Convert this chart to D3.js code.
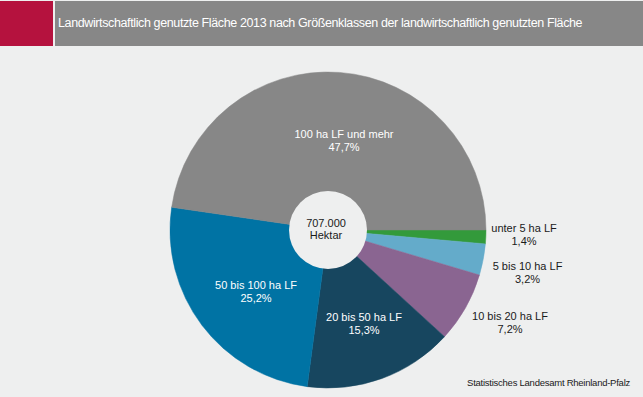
<!DOCTYPE html>
<html><head><meta charset="utf-8">
<script src="https://cdn.jsdelivr.net/npm/d3@7/dist/d3.min.js"></script>
<style>
html,body{margin:0;padding:0;background:#eeefef;}
svg{display:block;font-family:"Liberation Sans",Arial,sans-serif;}
</style></head>
<body>
<svg id="chart" width="643" height="397"></svg>
<script>
const title = "Landwirtschaftlich genutzte Fläche 2013 nach Größenklassen der landwirtschaftlich genutzten Fläche";
const categories = ["unter 5 ha LF", "5 bis 10 ha LF", "10 bis 20 ha LF", "20 bis 50 ha LF", "50 bis 100 ha LF", "100 ha LF und mehr"];
const values = [1.4, 3.2, 7.2, 15.3, 25.2, 47.7];
const valueLabels = ["1,4%", "3,2%", "7,2%", "15,3%", "25,2%", "47,7%"];
const colors = ["#339a3b", "#64abca", "#8a6591", "#17465f", "#0073a4", "#878787"];
const labelColors = ["#1a1a1a", "#1a1a1a", "#1a1a1a", "#ffffff", "#ffffff", "#ffffff"];
const centerLines = ["707.000", "Hektar"];
const source = "Statistisches Landesamt Rheinland-Pfalz";

// layout (label anchor positions relative to the pie centre)
const labelPos = [[196, 2], [199.5, 40], [182, 90], [36, 91], [-72, 59], [16, -92]];

const svg = d3.select("#chart");
const W = 643, H = 397;
svg.append("rect").attr("width", W).attr("height", H).attr("fill", "#eeefef");

// header
svg.append("rect").attr("x", 0).attr("y", 1).attr("width", 53).attr("height", 45).attr("fill", "#b5123e");
svg.append("rect").attr("x", 55).attr("y", 1).attr("width", W - 55).attr("height", 45).attr("fill", "#878787");
svg.append("text").attr("x", 58).attr("y", 27).attr("fill", "#ffffff")
  .attr("font-size", 12.5).attr("letter-spacing", -0.38)
  .text(title);

const cx = 328, cy = 230, R = 158, r0 = 39;
const g = svg.append("g").attr("transform", `translate(${cx},${cy})`);

const pie = d3.pie().sort(null).value(d => d)
  .startAngle(Math.PI / 2).endAngle(Math.PI / 2 + 2 * Math.PI);
const arcs = pie(values);
const arc = d3.arc().innerRadius(0).outerRadius(R);

g.selectAll("path.slice").data(arcs).join("path")
  .attr("class", "slice")
  .attr("d", arc)
  .attr("fill", (d, i) => colors[i])
  .attr("stroke", (d, i) => colors[i]).attr("stroke-width", 0.5);

// hole
g.append("circle").attr("r", r0).attr("fill", "#eeefef");

g.selectAll("text.c").data(centerLines).join("text")
  .attr("class", "c")
  .attr("x", -2).attr("y", (d, i) => -3 + i * 12)
  .attr("text-anchor", "middle").attr("font-size", 11).attr("fill", "#1a1a1a")
  .text(d => d);

// labels
const lg = g.selectAll("g.lab").data(arcs).join("g").attr("class", "lab")
  .attr("transform", (d, i) => `translate(${labelPos[i][0]},${labelPos[i][1]})`);
lg.append("text").attr("text-anchor", "middle").attr("font-size", 11)
  .attr("y", 0).attr("fill", (d, i) => labelColors[i]).text((d, i) => categories[i]);
lg.append("text").attr("text-anchor", "middle").attr("font-size", 11)
  .attr("y", 12.5).attr("fill", (d, i) => labelColors[i]).text((d, i) => valueLabels[i]);

svg.append("text").attr("x", 630).attr("y", 386).attr("text-anchor", "end")
  .attr("font-size", 9.5).attr("fill", "#1a1a1a").attr("letter-spacing", -0.25)
  .text(source);
</script>
</body></html>
